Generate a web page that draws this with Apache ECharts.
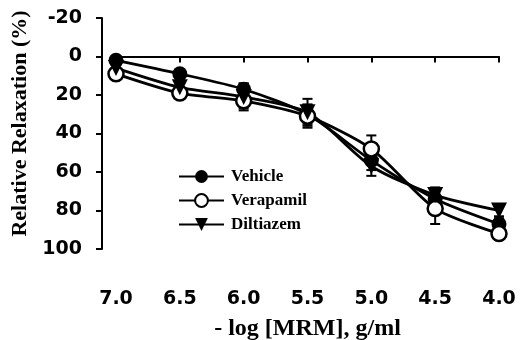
<!DOCTYPE html>
<html>
<head>
<meta charset="utf-8">
<script src="https://cdn.jsdelivr.net/npm/echarts@6/dist/echarts.min.js"></script>
<style>
html,body{margin:0;padding:0;background:#fff;}
#chart{width:527px;height:340px;}
</style>
</head>
<body>
<div id="chart"></div>
<script>
const concentrations = [7.0, 6.5, 6.0, 5.5, 5.0, 4.5, 4.0];
const xTicks = [4.0, 4.5, 5.0, 5.5, 6.0, 6.5, 7.0];
const yTicks = [-20, 0, 20, 40, 60, 80, 100];
const seriesNames = ['Vehicle', 'Verapamil', 'Diltiazem'];
const vehicle = [2, 9, 17, 30, 54, 74, 87];
const verapamil = [9, 19, 23, 31, 48, 79, 92];
const diltiazem = [6, 16, 21, 29, 57, 72, 80];
const vehicleErr = [2, 2, 3, 5, 5, 4, 3];
const verapamilErr = [2, 3, 4, 6, 7, 8, 3];
const diltiazemErr = [2, 3, 7, 7, 5, 4, 3];

const chart = echarts.init(document.getElementById('chart'));
const values = [vehicle, verapamil, diltiazem];
const errs = [vehicleErr, verapamilErr, diltiazemErr];
const symbols = ['circle', 'circle', 'triangle'];
const fills = ['#000', '#fff', '#000'];

const series = [];
values.forEach((vals, i) => {
  series.push({
    type: 'custom',
    silent: true,
    z: 1,
    data: concentrations.map((c, k) => [c, vals[k] - errs[i][k], vals[k] + errs[i][k]]),
    renderItem: function (params, api) {
      const x = api.value(0);
      const lo = api.coord([x, api.value(1)]);
      const hi = api.coord([x, api.value(2)]);
      const w = 5;
      const st = {stroke: '#000', lineWidth: 2};
      return {
        type: 'group',
        children: [
          {type: 'line', shape: {x1: lo[0], y1: lo[1], x2: hi[0], y2: hi[1]}, style: st},
          {type: 'line', shape: {x1: lo[0] - w, y1: lo[1], x2: lo[0] + w, y2: lo[1]}, style: st},
          {type: 'line', shape: {x1: hi[0] - w, y1: hi[1], x2: hi[0] + w, y2: hi[1]}, style: st}
        ]
      };
    }
  });
});
values.forEach((vals, i) => {
  series.push({
    name: seriesNames[i],
    type: 'line',
    z: 3,
    smooth: 0.25,
    data: concentrations.map((c, k) => [c, vals[k]]),
    symbol: symbols[i],
    symbolRotate: i === 2 ? 180 : 0,
    symbolSize: i === 2 ? 16 : 15,
    showAllSymbol: true,
    lineStyle: {color: '#000', width: 2.8},
    itemStyle: {color: fills[i], borderColor: '#000', borderWidth: i === 1 ? 2.5 : 0},
    emphasis: {disabled: true}
  });
});

chart.setOption({
  animation: false,
  backgroundColor: '#fff',
  grid: {left: 116, right: 28, top: 18, bottom: 91, outerBoundsMode: 'none', containLabel: false},
  legend: {
    data: seriesNames,
    orient: 'vertical',
    left: 173,
    top: 163,
    itemWidth: 45,
    itemHeight: 16,
    itemGap: 7,
    textStyle: {fontFamily: 'Liberation Serif', fontWeight: 'bold', fontSize: 17, color: '#000', padding: [0, 0, 0, 2]}
  },
  xAxis: {
    type: 'value',
    inverse: true,
    min: xTicks[0],
    max: xTicks[xTicks.length - 1],
    interval: 0.5,
    offset: 9,
    name: '- log [MRM], g/ml',
    nameLocation: 'middle',
    nameGap: 59,
    nameTextStyle: {fontFamily: 'Liberation Serif', fontWeight: 'bold', fontSize: 24, color: '#000'},
    axisLine: {show: true, lineStyle: {color: '#000', width: 2}},
    axisTick: {show: true, inside: false, length: 6, lineStyle: {color: '#000', width: 2}},
    splitLine: {show: false},
    axisLabel: {
      margin: 32,
      color: '#000',
      fontFamily: 'DejaVu Sans',
      fontWeight: 'bold',
      fontSize: 19,
      formatter: v => v.toFixed(1)
    }
  },
  yAxis: {
    type: 'value',
    inverse: true,
    min: yTicks[0],
    max: yTicks[yTicks.length - 1],
    interval: 20,
    offset: 14,
    name: 'Relative Relaxation (%)',
    nameLocation: 'middle',
    nameGap: 66,
    nameRotate: 90,
    nameTextStyle: {fontFamily: 'Liberation Serif', fontWeight: 'bold', fontSize: 22, color: '#000', padding: [0, 0, 0, 20]},
    axisLine: {show: true, lineStyle: {color: '#000', width: 2}},
    axisTick: {show: true, inside: false, length: 6, lineStyle: {color: '#000', width: 2}},
    splitLine: {show: false},
    axisLabel: {
      margin: 20,
      color: '#000',
      fontFamily: 'DejaVu Sans',
      fontWeight: 'bold',
      fontSize: 19
    }
  },
  series: series
});
</script>
</body>
</html>
